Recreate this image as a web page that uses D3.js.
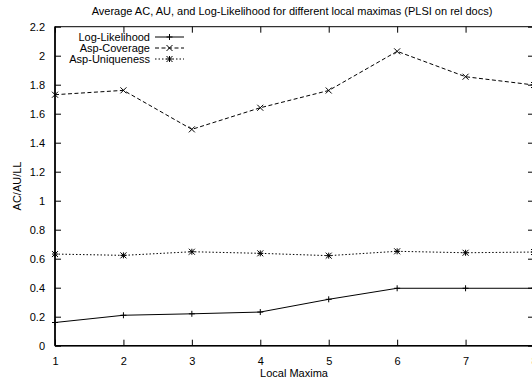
<!DOCTYPE html>
<html><head><meta charset="utf-8">
<script src="https://cdn.jsdelivr.net/npm/d3@7"></script>
<style>body{margin:0;background:#fff}svg{display:block}text{font-family:"Liberation Sans",Arial,sans-serif;fill:#000}</style>
</head><body>
<script>
const xValues = [1,2,3,4,5,6,7,8];
const logLikelihood = [0.16,0.21,0.22,0.232,0.32,0.396,0.396,0.396];
const aspCoverage = [1.731,1.761,1.492,1.641,1.76,2.03,1.855,1.798];
const aspUniqueness = [0.632,0.623,0.648,0.637,0.621,0.651,0.641,0.646];
const yTicks = [0,0.2,0.4,0.6,0.8,1,1.2,1.4,1.6,1.8,2,2.2];
const xTicks = [1,2,3,4,5,6,7,8];
const seriesNames = ["Log-Likelihood","Asp-Coverage","Asp-Uniqueness"];

const W=532,H=381;
const svg=d3.select("body").append("svg").attr("width",W).attr("height",H);
const x=d3.scaleLinear().domain([1,8]).range([55,534]);
const y=d3.scaleLinear().domain([0,2.2]).range([345.7,26.7]);

const g=svg.append("g");
g.append("rect").attr("x",x(1)).attr("y",y(2.2)).attr("width",x(8)-x(1)).attr("height",y(0)-y(2.2))
 .attr("fill","none").attr("stroke","#000").attr("stroke-width",1);
g.append("line").attr("x1",x(1)).attr("x2",x(1)).attr("y1",y(2.2)).attr("y2",y(0)).attr("stroke","#000").attr("stroke-width",1.6);
g.append("line").attr("x1",x(1)).attr("x2",x(8)).attr("y1",y(0)).attr("y2",y(0)).attr("stroke","#000").attr("stroke-width",1.6);

const tl=6;
const yAxis=d3.axisLeft(y).tickValues(yTicks).tickSize(-tl).tickPadding(tl+4).tickFormat(d3.format("~g"));
const ya=svg.append("g").attr("transform",`translate(${x(1)},0)`).call(yAxis);
ya.select(".domain").remove();
ya.selectAll("text").style("font-size","11px").style("font-family","'Liberation Sans',Arial,sans-serif");
const yr=svg.append("g").attr("transform",`translate(${x(8)},0)`).call(d3.axisRight(y).tickValues(yTicks).tickSize(-tl).tickFormat(""));
yr.select(".domain").remove();
const xAxis=d3.axisBottom(x).tickValues(xTicks).tickSize(-tl).tickPadding(tl+6).tickFormat(d3.format("d"));
const xa=svg.append("g").attr("transform",`translate(0,${y(0)})`).call(xAxis);
xa.select(".domain").remove();
xa.selectAll("text").style("font-size","11px").style("font-family","'Liberation Sans',Arial,sans-serif");
const xt=svg.append("g").attr("transform",`translate(0,${y(2.2)})`).call(d3.axisTop(x).tickValues(xTicks).tickSize(-tl).tickFormat(""));
xt.select(".domain").remove();

svg.append("text").attr("x",292).attr("y",15).attr("text-anchor","middle").style("font-size","11px")
 .text("Average AC, AU, and Log-Likelihood for different local maximas (PLSI on rel docs)");
svg.append("text").attr("transform","translate(21,186) rotate(-90)").attr("text-anchor","middle").style("font-size","11px").text("AC/AU/LL");
svg.append("text").attr("x",294).attr("y",377).attr("text-anchor","middle").style("font-size","11px").text("Local Maxima");

const series=[
 {name:seriesNames[0],vals:logLikelihood,dash:null,mark:"plus"},
 {name:seriesNames[1],vals:aspCoverage,dash:"4,2.5",mark:"x"},
 {name:seriesNames[2],vals:aspUniqueness,dash:"1.5,2",mark:"star"}
];
const line=d3.line().x((d,i)=>x(xValues[i])).y(d=>y(d));
svg.append("clipPath").attr("id","c").append("rect").attr("x",x(1)-4).attr("y",y(2.2)).attr("width",W).attr("height",y(0)-y(2.2)+4);
function marker(sel,type,cx,cy){
  const s=3;
  const p=d3.path();
  if(type==="plus"||type==="star"){p.moveTo(cx-s,cy);p.lineTo(cx+s,cy);p.moveTo(cx,cy-s);p.lineTo(cx,cy+s);}
  if(type==="x"||type==="star"){p.moveTo(cx-s,cy-s);p.lineTo(cx+s,cy+s);p.moveTo(cx-s,cy+s);p.lineTo(cx+s,cy-s);}
  sel.append("path").attr("d",p.toString()).attr("stroke","#000").attr("stroke-width",1).attr("fill","none");
}
const pg=svg.append("g").attr("clip-path","url(#c)");
series.forEach(s=>{
  pg.append("path").datum(s.vals).attr("d",line).attr("fill","none").attr("stroke","#000").attr("stroke-width",1)
    .attr("stroke-dasharray",s.dash);
  s.vals.forEach((v,i)=>marker(pg,s.mark,x(xValues[i]),y(v)));
});
const ly=[37,48,59];
series.forEach((s,i)=>{
  svg.append("text").attr("x",150).attr("y",ly[i]+4).attr("text-anchor","end").style("font-size","11px").text(s.name);
  svg.append("line").attr("x1",155).attr("x2",184).attr("y1",ly[i]).attr("y2",ly[i]).attr("stroke","#000").attr("stroke-width",1).attr("stroke-dasharray",s.dash);
  marker(svg,s.mark,169.5,ly[i]);
});
</script>
</body></html>
